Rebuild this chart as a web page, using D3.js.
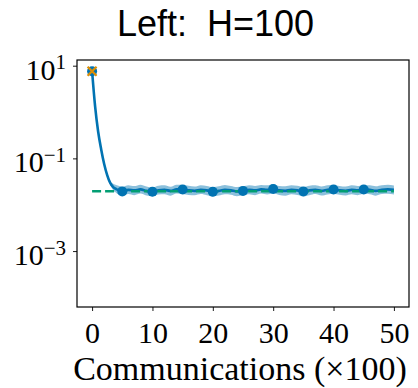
<meta charset="utf-8">
<head>
  <title>Left: H=100</title>
</head>
<style>
  body { margin: 0; background: #fff; }
  .tick line { stroke: #000; stroke-width: 0.9; }
</style>
<body>
  <div id="content"></div>
  <script src="https://cdnjs.cloudflare.com/ajax/libs/d3/7.8.5/d3.min.js"></script>
  <script>

const width = 418
const height = 388

// communications (x100)
var steps = [0, 0.5, 1, 1.5, 2, 2.5, 3, 3.5, 4, 4.5,
  5, 6, 7, 8, 9, 10, 11, 12, 13, 14, 15, 16, 17, 18, 19, 20,
  21, 22, 23, 24, 25, 26, 27, 28, 29, 30, 31, 32, 33, 34, 35,
  36, 37, 38, 39, 40, 41, 42, 43, 44, 45, 46, 47, 48, 49, 50];

var meanLoss = [7.59, 1.32, 0.380, 0.158, 0.0759, 0.0437, 0.0295, 0.0240, 0.0218, 0.0205,
  0.0194, 0.0209, 0.0204, 0.0214, 0.0199, 0.0190, 0.0204, 0.0209, 0.0199, 0.0214, 0.0214,
  0.0204, 0.0199, 0.0209, 0.0204, 0.0190, 0.0199, 0.0209, 0.0204, 0.0194, 0.0199,
  0.0209, 0.0204, 0.0214, 0.0209, 0.0219, 0.0204, 0.0199, 0.0209, 0.0204, 0.0194,
  0.0204, 0.0209, 0.0199, 0.0209, 0.0214, 0.0204, 0.0199, 0.0209, 0.0204, 0.0214,
  0.0209, 0.0199, 0.0209, 0.0214, 0.0209];

var bandLo = [7.45, 1.28, 0.368, 0.152, 0.0728, 0.0415, 0.0272, 0.0205, 0.0180, 0.0166,
  0.0156, 0.0170, 0.0161, 0.0174, 0.0158, 0.0152, 0.0166, 0.0168, 0.0157, 0.0175, 0.0170,
  0.0162, 0.0160, 0.0170, 0.0161, 0.0151, 0.0158, 0.0169, 0.0165, 0.0153, 0.0160,
  0.0168, 0.0161, 0.0174, 0.0166, 0.0177, 0.0163, 0.0157, 0.0169, 0.0163, 0.0152,
  0.0161, 0.0170, 0.0158, 0.0167, 0.0173, 0.0164, 0.0158, 0.0168, 0.0161, 0.0172,
  0.0168, 0.0157, 0.0170, 0.0172, 0.0167];

var bandHi = [7.73, 1.36, 0.392, 0.164, 0.0790, 0.0460, 0.0320, 0.0282, 0.0266, 0.0254,
  0.0243, 0.0264, 0.0252, 0.0270, 0.0247, 0.0236, 0.0258, 0.0262, 0.0245, 0.0270, 0.0265,
  0.0256, 0.0246, 0.0263, 0.0252, 0.0238, 0.0249, 0.0266, 0.0253, 0.0240, 0.0250,
  0.0264, 0.0255, 0.0268, 0.0262, 0.0277, 0.0254, 0.0250, 0.0263, 0.0256, 0.0241,
  0.0257, 0.0262, 0.0248, 0.0264, 0.0268, 0.0255, 0.0247, 0.0263, 0.0254, 0.0268,
  0.0262, 0.0250, 0.0263, 0.0270, 0.0260];

var markerSteps = [0, 5, 10, 15, 20, 25, 30, 35, 40, 45];
var optimum = 0.0195;
var startStep = 0;

var xTicks = [0, 10, 20, 30, 40, 50];
var yTicks = [10, 0.1, 0.001];
var yTickExp = ["1", "\u22121", "\u22123"];

var blue = "#0173b2", orange = "#de8f05", green = "#029e73";

var rows = steps.map(function(s, i) {
  return { x: s, y: meanLoss[i], lo: bandLo[i], hi: bandHi[i] };
});
function lookup(s) { return rows.find(function(r) { return r.x === s; }); }

var mLeft = 77, mRight = 409, mTop = 60, mBottom = 307;

var xScale = d3.scaleLinear().domain([-2.5, 52.5]).range([mLeft, mRight]);
var yScale = d3.scaleLog().domain([Math.pow(10, -4.207), Math.pow(10, 1.123)]).range([mBottom, mTop]);

const svg = d3.select('#content')
  .append('svg')
    .attr('width', width)
    .attr('height', height)
    .style('font-family', '"Liberation Serif", "Times New Roman", serif');

var plot = svg.append('g');

plot.append('path')
  .datum(rows)
  .attr('fill', blue)
  .attr('fill-opacity', 0.45)
  .attr('d', d3.area()
    .x(function(d) { return xScale(d.x); })
    .y0(function(d) { return yScale(d.lo); })
    .y1(function(d) { return yScale(d.hi); })
    .curve(d3.curveMonotoneX));

plot.append('path')
  .datum(rows)
  .attr('fill', 'none')
  .attr('stroke', blue)
  .attr('stroke-width', 2.6)
  .attr('d', d3.line()
    .x(function(d) { return xScale(d.x); })
    .y(function(d) { return yScale(d.y); })
    .curve(d3.curveMonotoneX));

plot.append('line')
  .attr('x1', xScale(0)).attr('x2', xScale(50))
  .attr('y1', yScale(optimum)).attr('y2', yScale(optimum))
  .attr('stroke', green)
  .attr('stroke-width', 2.6)
  .attr('stroke-dasharray', '9,4');

plot.selectAll('circle.mk')
  .data(markerSteps.map(lookup))
  .enter().append('circle')
  .attr('class', 'mk')
  .attr('cx', function(d) { return xScale(d.x); })
  .attr('cy', function(d) { return yScale(d.y); })
  .attr('r', 5)
  .attr('fill', blue);

// starting point marker
var s0 = lookup(startStep);
plot.append('path')
  .attr('transform', 'translate(' + xScale(s0.x) + ',' + yScale(s0.y) + ')')
  .attr('d', 'M-4.5,-4.5L4.5,4.5M-4.5,4.5L4.5,-4.5')
  .attr('stroke', orange)
  .attr('stroke-width', 2.2);

// frame
svg.append('rect')
  .attr('x', mLeft).attr('y', mTop)
  .attr('width', mRight - mLeft).attr('height', mBottom - mTop)
  .attr('fill', 'none')
  .attr('stroke', '#000')
  .attr('stroke-width', 1.2);

// x axis
var gx = svg.append('g')
  .attr('transform', 'translate(0,' + mBottom + ')')
  .call(d3.axisBottom(xScale).tickValues(xTicks).tickSize(4).tickPadding(2).tickFormat(d3.format('d')));
gx.select('.domain').remove();
gx.selectAll('text')
  .attr('fill', '#000')
  .attr('dy', null)
  .attr('y', 35.5)
  .style('font-family', '"Liberation Serif", serif')
  .style('font-size', '30px');

// y axis
var gy = svg.append('g')
  .attr('transform', 'translate(' + mLeft + ',0)')
  .call(d3.axisLeft(yScale).tickValues(yTicks).tickSize(4).tickFormat(function() { return ''; }));
gy.select('.domain').remove();
gy.selectAll('.tick text').remove();
gy.selectAll('.tick').each(function(d, i) {
  var t = d3.select(this).append('text')
    .attr('x', -11)
    .attr('y', 13.5)
    .attr('text-anchor', 'end')
    .attr('fill', '#000')
    .style('font-family', '"Liberation Serif", serif')
    .style('font-size', '30px');
  t.append('tspan').text('10');
  t.append('tspan')
    .attr('dy', -10.5)
    .style('font-size', '21px')
    .text(yTickExp[i]);
});

// labels
svg.append('text')
  .attr('x', 240)
  .attr('y', 380)
  .attr('text-anchor', 'middle')
  .style('font-family', '"Liberation Serif", serif')
  .style('font-size', '34px')
  .text('Communications (\u00d7100)');

svg.append('text')
  .attr('x', 215.5)
  .attr('y', 36)
  .attr('text-anchor', 'middle')
  .style('font-family', '"Liberation Sans", Arial, sans-serif')
  .style('font-size', '36px')
  .style('white-space', 'pre')
  .text('Left:  H=100');

</script>
</body>
</html>
